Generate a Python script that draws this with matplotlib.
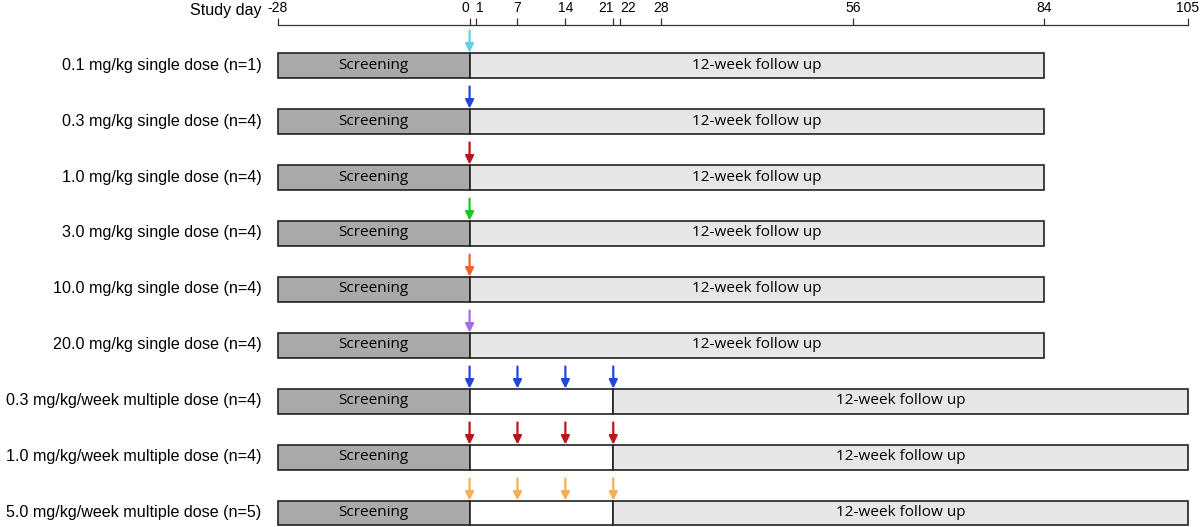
import matplotlib.pyplot as plt

# study design data
groups = [
    "0.1 mg/kg single dose (n=1)",
    "0.3 mg/kg single dose (n=4)",
    "1.0 mg/kg single dose (n=4)",
    "3.0 mg/kg single dose (n=4)",
    "10.0 mg/kg single dose (n=4)",
    "20.0 mg/kg single dose (n=4)",
    "0.3 mg/kg/week multiple dose (n=4)",
    "1.0 mg/kg/week multiple dose (n=4)",
    "5.0 mg/kg/week multiple dose (n=5)",
]
screen_start = -28
dose_end = [0, 0, 0, 0, 0, 0, 21, 21, 21]
follow_end = [84, 84, 84, 84, 84, 84, 105, 105, 105]
dose_days = [[0]] * 6 + [[0, 7, 14, 21]] * 3
arrow_colors = ["#5fd4e6", "#2346e0", "#c0141c", "#1ec81e", "#f0602a",
                "#a86be8", "#2346e0", "#c0141c", "#f7b04f"]
tick_days = [-28, 0, 1, 7, 14, 21, 22, 28, 56, 84, 105]

plt.rcParams['font.family'] = ['Liberation Sans', 'DejaVu Sans']
bar_font = 'Open Sans'

fig = plt.figure(figsize=(12, 5.27), dpi=100)
ax = fig.add_axes([278 / 1200, 0, (1188 - 278) / 1200, 1])
ax.set_xlim(-28, 105)
# row i sits at pixel 65 + 56*i from top
ax.set_ylim((527 - 65) / 56, -65 / 56)

h = 25 / 56
alen = 22 / 56
edge = "#222222"
label_x = -30.4

for i, name in enumerate(groups):
    ax.barh(i, 0 - screen_start, left=screen_start, height=h,
            color="#a9a9a9", edgecolor=edge, linewidth=1.2, clip_on=False)
    if dose_end[i] > 0:
        ax.barh(i, dose_end[i], left=0, height=h,
                color="white", edgecolor=edge, linewidth=1.2, clip_on=False)
    ax.barh(i, follow_end[i] - dose_end[i], left=dose_end[i], height=h,
            color="#e6e6e6", edgecolor=edge, linewidth=1.2, clip_on=False)
    ax.text(screen_start / 2, i, "Screening", ha="center", va="center",
            fontsize=11, family=bar_font)
    ax.text((dose_end[i] + follow_end[i]) / 2, i, "12-week follow up",
            ha="center", va="center", fontsize=11, family=bar_font)
    ax.text(label_x, i, name, ha="right", va="center", fontsize=11.6)
    for d in dose_days[i]:
        ax.annotate("", xy=(d, i - h / 2), xytext=(d, i - h / 2 - alen),
                    arrowprops=dict(arrowstyle="-|>,head_length=0.5,head_width=0.25",
                                    color=arrow_colors[i], lw=1.6,
                                    shrinkA=0, shrinkB=0))

# top day axis
for s in ["left", "right", "bottom"]:
    ax.spines[s].set_visible(False)
ax.spines["top"].set_position(("data", (25 - 65) / 56))
ax.spines["top"].set_color("#333333")
ax.spines["top"].set_linewidth(0.9)
ax.xaxis.tick_top()
ax.set_xticks(tick_days)
ax.set_xticklabels([str(t) for t in tick_days], fontsize=10)
ax.tick_params(axis="x", direction="out", length=5, width=0.9,
               color="#333333", pad=2)
# pull apart the crowded labels 0/1 and 21/22
for lab, t in zip(ax.get_xticklabels(), tick_days):
    if t in (0, 21):
        lab.set_ha("right")
        lab.set_x(t + 0.4)
    elif t in (1, 22):
        lab.set_ha("left")
        lab.set_x(t - 0.4)
ax.set_yticks([])
ax.text(label_x, (10 - 65) / 56, "Study day", ha="right", va="center", fontsize=11.6)

fig.savefig("out.png", dpi=100)
